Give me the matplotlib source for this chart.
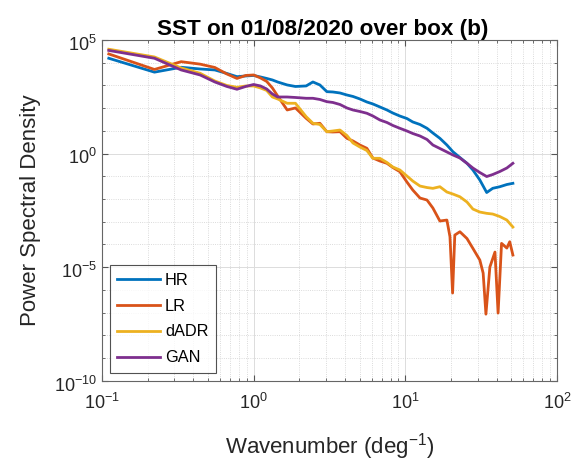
import numpy as np
import matplotlib
matplotlib.use("Agg")
import matplotlib.pyplot as plt
from matplotlib.ticker import FixedLocator, LogFormatterMathtext, LogLocator, NullFormatter
from matplotlib.transforms import ScaledTranslation

plt.rcParams["font.family"] = ["Liberation Sans", "DejaVu Sans"]
plt.rcParams["mathtext.default"] = "regular"

# wavenumber (deg^-1) shared by HR, dADR and GAN
k_common = [0.111, 0.222, 0.333, 0.444, 0.555, 0.666, 0.777, 0.888, 1.0, 1.11,
            1.22, 1.33, 1.44, 1.665, 1.887, 2.22, 2.46, 2.735, 3.04, 3.33,
            3.71, 4.12, 4.52, 5.02, 5.58, 6.11, 6.80, 7.57, 8.28, 9.21,
            10.25, 11.2, 12.5, 13.9, 15.2, 16.9, 18.8, 20.6, 22.9, 25.5,
            27.9, 31.0, 34.4, 37.7, 42.0, 46.7, 51.2]

hr = [1.57e4, 3.84e3, 6.3e3, 5.3e3, 4.8e3, 3.37e3, 2.43e3, 2.61e3, 2.75e3, 2.36e3,
      2.03e3, 1.74e3, 1.42e3, 1.05e3, 9.0e2, 9.5e2, 1.42e3, 1.05e3, 532, 515,
      466, 380, 327, 254, 187, 153, 113, 83, 61, 45,
      35, 24.7, 19.1, 13.0, 8.07, 4.72, 2.39, 1.21, 0.673, 0.374,
      0.190, 0.0689, 0.0194, 0.0297, 0.0349, 0.0436, 0.0492]

dadr = [3.92e4, 1.79e4, 5.87e3, 3.43e3, 1.57e3, 998, 830, 948, 948, 774,
        600, 310, 254, 164, 164, 42.2, 21.6, 19.1, 9.2, 9.9,
        10.9, 6.27, 2.93, 1.95, 1.37, 0.621, 0.621, 0.405, 0.257, 0.190,
        0.103, 0.062, 0.0374, 0.0321, 0.0296, 0.0349, 0.0204, 0.0166, 0.0126, 0.0074,
        0.00363, 0.00268, 0.00235, 0.00219, 0.0017, 0.00119, 5.86e-4]

gan = [3.47e4, 1.57e4, 4.8e3, 2.89e3, 1.42e3, 902, 678, 902, 1.10e3, 948,
       698, 421, 310, 310, 295, 272, 272, 241, 193, 178,
       145, 102, 83, 71.4, 59.6, 45.3, 30.2, 23.4, 17.3, 13.0,
       9.89, 7.67, 5.96, 4.18, 2.39, 1.68, 1.18, 0.869, 0.641, 0.374,
       0.232, 0.147, 0.098, 0.120, 0.163, 0.232, 0.374]

# LR has its own sampling so the deep dips show up
k_lr = [0.111, 0.222, 0.333, 0.444, 0.555, 0.666, 0.777, 0.888, 1.0, 1.11,
        1.22, 1.33, 1.44, 1.665, 1.887, 2.22, 2.46, 2.735, 3.04, 3.33,
        3.71, 4.12, 4.52, 5.02, 5.58, 6.11, 6.80, 7.57, 8.28, 9.21,
        10.25, 11.2, 12.5, 13.9, 15.2, 16.9, 18.8, 19.7, 20.5, 21.2,
        22.9, 25.5, 27.9, 31.0, 32.6, 34.0, 36.1, 39.0, 40.9, 43.1,
        46.7, 48.8, 51.2]

lr = [2.43e4, 5.05e3, 1.11e4, 8.65e3, 6.18e3, 3.2e3, 2.03e3, 2.75e3, 2.89e3, 2.13e3,
      1.50e3, 774, 344, 83.2, 102, 35.8, 20.1, 21.6, 9.2, 8.93,
      9.2, 4.72, 3.59, 2.39, 1.71, 0.64, 0.472, 0.374, 0.244, 0.160,
      0.0562, 0.025, 0.0111, 0.00906, 0.00403, 0.00108, 0.00119, 2.19e-4, 7.3e-7, 2.6e-4,
      3.64e-4, 1.83e-4, 6.76e-5, 2.06e-5, 5.5e-6, 8.6e-8, 1.02e-5, 4.65e-5, 9.6e-8, 1.12e-4,
      6.97e-5, 1.32e-4, 3.43e-5]

series = [("HR", k_common, hr, "#0072BD"),
          ("LR", k_lr, lr, "#D95319"),
          ("dADR", k_common, dadr, "#EDB120"),
          ("GAN", k_common, gan, "#7E2F8E")]

fig = plt.figure(figsize=(5.79, 4.65), dpi=100)
ax = fig.add_axes([0.176, 0.181, 0.786, 0.733])

for name, k, p, col in series:
    ax.loglog(k, p, color=col, lw=2, label=name)

ax.set_xlim(1e-1, 1e2)
ax.set_ylim(1e-10, 1e5)

ax.xaxis.set_major_locator(FixedLocator([1e-1, 1e0, 1e1, 1e2]))
ax.xaxis.set_minor_locator(LogLocator(base=10, subs=np.arange(2, 10), numticks=20))
ax.yaxis.set_major_locator(FixedLocator([1e-10, 1e-5, 1e0, 1e5]))
ax.yaxis.set_minor_locator(FixedLocator([10.0 ** i for i in range(-10, 6)]))
ax.xaxis.set_major_formatter(LogFormatterMathtext())
ax.yaxis.set_major_formatter(LogFormatterMathtext())
ax.xaxis.set_minor_formatter(NullFormatter())
ax.yaxis.set_minor_formatter(NullFormatter())

ax.grid(True, which="major", color="#dcdcdc", lw=0.7, ls="-")
ax.grid(True, which="minor", color="#cfcfcf", lw=0.6, ls=":")
ax.set_axisbelow(True)

ax.tick_params(which="both", direction="in", top=True, right=True,
               colors="#555555", labelcolor="#262626", labelsize=13)
ax.tick_params(which="major", length=4)
ax.tick_params(which="minor", length=2.5)
ax.tick_params(axis="x", which="major", pad=8.5)
for sp in ax.spines.values():
    sp.set_color("#666666")
    sp.set_linewidth(0.8)

# matlab puts the base digits a bit below the tick
for lab in ax.get_yticklabels():
    lab.set_transform(lab.get_transform() + ScaledTranslation(0, -2 / 72, fig.dpi_scale_trans))

ax.set_title("SST on 01/08/2020 over box (b)", fontsize=16.2, fontweight="bold", pad=2, x=0.486)
ax.set_xlabel("Wavenumber (deg$^{-1}$)", fontsize=16, color="#262626", labelpad=13)
ax.set_ylabel("Power Spectral Density", fontsize=16, color="#262626", labelpad=9)

leg = ax.legend(loc="lower left", fontsize=11.8, frameon=True, fancybox=False,
                borderaxespad=0.5, borderpad=0.45, handlelength=2.6,
                handletextpad=0.3, labelspacing=0.66)
leg.get_frame().set_edgecolor("#262626")
leg.get_frame().set_linewidth(0.8)

fig.savefig("out.png", dpi=100)
